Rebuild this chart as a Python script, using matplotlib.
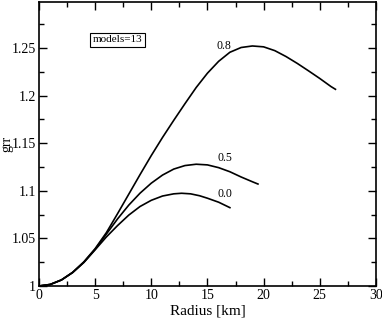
import matplotlib
matplotlib.use("Agg")
import matplotlib.pyplot as plt
from matplotlib.ticker import MultipleLocator, FuncFormatter

# Data
r_08 = [0, 1, 2, 3, 4, 5, 6, 7, 8, 9, 10, 11, 12, 13, 14, 15, 16, 17, 18, 19, 20, 21, 22, 23, 24, 25, 26, 26.4]
g_08 = [1.0, 1.0016, 1.0064, 1.0144, 1.0254, 1.0392, 1.0560, 1.0760, 1.0965, 1.1170, 1.1370, 1.1560,
        1.1740, 1.1915, 1.2085, 1.2235, 1.2360, 1.2455, 1.2505, 1.2521, 1.2512, 1.2472, 1.2410, 1.2338,
        1.2260, 1.2180, 1.2095, 1.2066]

r_05 = [0, 1, 2, 3, 4, 5, 6, 7, 8, 9, 10, 11, 12, 13, 14, 15, 16, 17, 18, 19, 19.5]
g_05 = [1.0, 1.0016, 1.0063, 1.0142, 1.0250, 1.0385, 1.0545, 1.0705, 1.0850, 1.0975, 1.1080, 1.1165,
        1.1228, 1.1265, 1.1279, 1.1272, 1.1243, 1.1200, 1.1145, 1.1095, 1.1071]

r_00 = [0, 1, 2, 3, 4, 5, 6, 7, 8, 9, 10, 11, 12, 12.7, 13.5, 14.3, 15, 16, 17]
g_00 = [1.0, 1.0016, 1.0063, 1.0141, 1.0247, 1.0380, 1.0515, 1.0635, 1.0745, 1.0835, 1.0900, 1.0945,
        1.0968, 1.0974, 1.0968, 1.0948, 1.0922, 1.0880, 1.0823]

curve_labels = ["0.8", "0.5", "0.0"]
label_x = [16.5, 16.55, 16.55]
label_y = [1.2526, 1.1341, 1.0966]
annotation = "models=13"

plt.rcParams['font.family'] = ['Liberation Serif', 'DejaVu Serif']

fig = plt.figure(figsize=(3.82, 3.27), dpi=100)
ax = fig.add_axes([0.102, 0.1254, 0.882, 0.8685])

for r, g in [(r_08, g_08), (r_05, g_05), (r_00, g_00)]:
    ax.plot(r, g, color='black', lw=1.2, solid_joinstyle='round')

for t, x, y in zip(curve_labels, label_x, label_y):
    ax.text(x, y, t, fontsize=8.5, ha='center', va='center')

ax.text(7.0, 1.2584, annotation, fontsize=8, ha='center', va='center',
        bbox=dict(boxstyle='square,pad=0.25', fc='white', ec='black', lw=0.8))

ax.set_xlim(0, 30)
ax.set_ylim(1.0, 1.2983)
ax.xaxis.set_major_locator(MultipleLocator(5))
ax.xaxis.set_minor_locator(MultipleLocator(2.5))
ax.yaxis.set_major_locator(MultipleLocator(0.05))
ax.yaxis.set_minor_locator(MultipleLocator(0.025))
fmt = FuncFormatter(lambda v, p: '%g' % round(v, 4))
ax.xaxis.set_major_formatter(fmt)
ax.yaxis.set_major_formatter(fmt)
ax.tick_params(which='both', direction='in', top=True, right=True, labelsize=10, width=1.0)
ax.tick_params(which='major', length=6, pad=2)
ax.tick_params(which='minor', length=3.5)
for s in ax.spines.values():
    s.set_linewidth(1.2)

ax.set_xlabel('Radius [km]', fontsize=11, labelpad=2)
ax.set_ylabel('grr', fontsize=10, va='center')
ax.yaxis.set_label_coords(-0.095, 0.5)

fig.savefig('out.png', dpi=100)
